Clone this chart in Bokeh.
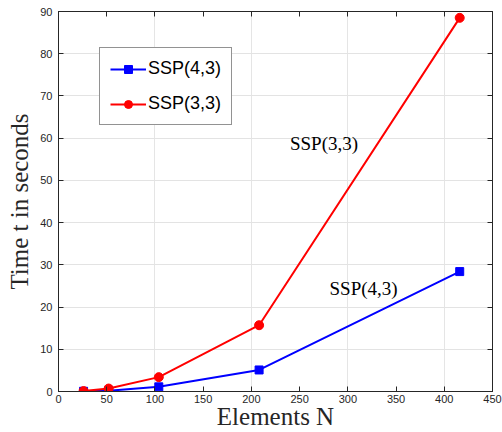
from bokeh.plotting import figure
from bokeh.models import FixedTicker, LinearAxis, Label, Legend, LegendItem, Range1d, Grid
from bokeh.models import CustomLabelingPolicy
from bokeh.embed import file_html
from bokeh.resources import INLINE

elements = [26, 52, 104, 208, 416]
ssp43 = [0.05, 0.2, 1.1, 5.1, 28.4]
ssp33 = [0.1, 0.7, 3.4, 15.7, 88.5]
x_ticks = [0, 50, 100, 150, 200, 250, 300, 350, 400, 450]
y_ticks = [0, 10, 20, 30, 40, 50, 60, 70, 80, 90]
x_title = "Elements N"
y_title = "Time t in seconds"

p = figure(width=502, height=432, output_backend="svg", toolbar_location=None,
           x_range=Range1d(0, 450), y_range=Range1d(0, 90),
           min_border_left=58, min_border_right=10, min_border_top=11, min_border_bottom=41,
           x_axis_location=None, y_axis_location=None)
p.background_fill_color = "white"
p.border_fill_color = "white"
p.outline_line_color = "#262626"
p.outline_line_width = 1

def style_axis(ax, ticks, show_labels):
    ax.ticker = FixedTicker(ticks=ticks)
    ax.major_tick_in = 5
    ax.major_tick_out = 0
    ax.minor_tick_line_color = None
    ax.axis_line_color = "#262626"
    ax.major_tick_line_color = "#262626"
    ax.major_label_text_font = "Liberation Sans"
    ax.major_label_text_color = "#262626"
    ax.major_label_text_font_size = "11px"
    ax.axis_label_text_font = "Liberation Serif"
    ax.axis_label_text_font_style = "normal"
    ax.axis_label_text_font_size = "25px"
    ax.axis_label_text_color = "#262626"
    if not show_labels:
        ax.major_label_policy = CustomLabelingPolicy(code="return new Set()")
        ax.major_label_text_font_size = "0px"
        ax.major_label_standoff = 0

bx = LinearAxis(axis_label=x_title); style_axis(bx, x_ticks, True)
bx.major_label_standoff = 3
bx.axis_label_standoff = -3
ly = LinearAxis(axis_label=y_title); style_axis(ly, y_ticks, True)
ly.major_label_standoff = 6
ly.axis_label_standoff = 4
tx = LinearAxis(); style_axis(tx, x_ticks, False)
ry = LinearAxis(); style_axis(ry, y_ticks, False)
p.add_layout(bx, "below")
p.add_layout(ly, "left")
p.add_layout(tx, "above")
p.add_layout(ry, "right")

g = Grid(dimension=1, ticker=FixedTicker(ticks=y_ticks))
g.grid_line_color = "#e3e3e3"
g.grid_line_width = 1
p.add_layout(g)

l1 = p.line(elements, ssp43, line_color="#0000ff", line_width=2)
m1 = p.scatter(elements, ssp43, marker="square", size=8, fill_color="#0000ff", line_color="#0000ff")
l2 = p.line(elements, ssp33, line_color="#ff0000", line_width=2)
m2 = p.scatter(elements, ssp33, marker="circle", size=9, fill_color="#ff0000", line_color="#ff0000")

legend = Legend(items=[LegendItem(label="SSP(4,3)", renderers=[l1, m1]),
                       LegendItem(label="SSP(3,3)", renderers=[l2, m2])],
                location=(41, 266))
legend.label_text_font = "Liberation Sans"
legend.label_text_font_size = "18px"
legend.label_text_color = "black"
legend.glyph_width = 36
legend.glyph_height = 20
legend.label_standoff = 2
legend.padding = 10
legend.spacing = 14
legend.margin = 0
legend.border_line_color = "#262626"
legend.border_line_width = 1
legend.background_fill_color = "white"
legend.background_fill_alpha = 1
p.add_layout(legend)

p.add_layout(Label(x=240, y=58.7, text="SSP(3,3)", text_font="Liberation Serif",
                   text_font_size="19px", text_baseline="middle", text_color="black"))
p.add_layout(Label(x=281, y=24.3, text="SSP(4,3)", text_font="Liberation Serif",
                   text_font_size="19px", text_baseline="middle", text_color="black"))

open("out.html", "w").write(file_html(p, INLINE))
